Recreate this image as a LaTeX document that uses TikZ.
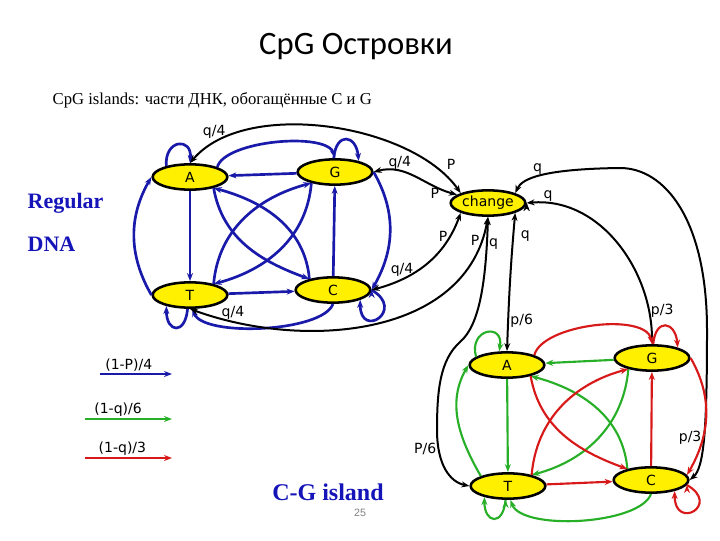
\documentclass[tikz,border=0pt]{standalone}
\usepackage{fontspec}
\setmainfont{Liberation Serif}
\newfontfamily\headfont{Carlito}
\newfontfamily\statefont{DejaVu Sans}
\newfontfamily\pagefont{Liberation Sans}
\usepackage{tikz}
\usetikzlibrary{arrows.meta,shapes.geometric,positioning}
\definecolor{regblue}{RGB}{25,25,170}
\definecolor{textblue}{RGB}{20,20,185}
\definecolor{grn}{RGB}{40,175,40}
\definecolor{rd}{RGB}{215,25,25}
\definecolor{nodeyellow}{RGB}{255,240,0}
\definecolor{pagegray}{RGB}{128,128,128}
\tikzset{
    %Define standard arrow tip
    >={Stealth[length=6pt,width=4.5pt]},
    %Define style for nucleotide states
    nucl/.style={
           ellipse,
           draw=black, line width=1.9pt,
           fill=nodeyellow,
           minimum width=56pt,
           minimum height=19pt,
           inner sep=0pt,
           font=\statefont\fontsize{10.5}{12}\selectfont,
           text centered},
    %Define style for transition labels
    prob/.style={
           font=\statefont\fontsize{10.5}{12}\selectfont,
           inner sep=1pt},
    % Define arrow styles
    bluepil/.style={->, draw=regblue, line width=2pt},
    greenpil/.style={->, draw=grn, line width=1.6pt},
    redpil/.style={->, draw=rd, line width=1.6pt},
    blackpil/.style={<->, draw=black, line width=1.5pt},
    heading/.style={font=\bfseries\fontsize{16.5}{18}\selectfont, text=textblue}
}

\begin{document}
\begin{tikzpicture}[x=0.75pt,y=0.75pt]
\useasboundingbox (0,0) rectangle (720,540);
\node[font=\headfont\fontsize{24.5}{28}\selectfont] (title) at (356,493) {CpG Островки};
\node[anchor=west, font=\fontsize{12.5}{15}\selectfont] (subtitle) at (48,440) {CpG islands: части ДНК, обогащённые C и G};
\node[heading, anchor=west] (reg) at (23,337) {Regular};
\node[heading, below=11pt of reg.south west, anchor=north west] (dna) {DNA};
\node[heading, font=\bfseries\fontsize{18}{20}\selectfont] (cgi) at (328,48) {C-G island};
\node[font=\pagefont\fontsize{8}{10}\selectfont, text=pagegray] (pgno) at (360,27) {25};

% regular DNA
\node[nucl] (rA) at (190,363) {A};
\node[nucl] (rG) at (335,368) {G};
\node[nucl] (rT) at (190,245) {T};
\node[nucl] (rC) at (333,250) {C};
\node[nucl] (chg) at (488,337) {change};
% C-G island
\node[nucl] (iA) at (507,175) {A};
\node[nucl] (iG) at (652,182) {G};
\node[nucl] (iT) at (508,54) {T};
\node[nucl] (iC) at (651,60) {C};

\path[bluepil]
  (rG) edge (rA)
  (rA) edge (rT)
  (rT) edge (rC)
  (rC) edge (rG)
  (rA.north east) edge[out=75, in=105, looseness=0.6] (rG.north)
  (rT.west) edge[out=120, in=240] (rA.west)
  (rG.east) edge[out=-60, in=60] (rC.east)
  (rC.south) edge[out=-110, in=-70, looseness=0.55] (rT.-80)
  (rA.-25) edge[out=-80, in=160] (rC.155)
  (rC.155) edge[out=95, in=-15] (rA.-25)
  (rT.25) edge[out=85, in=195] (rG.205)
  (rG.205) edge[out=-95, in=15] (rT.25)
  (rA.155) edge[out=95, in=85, distance=20pt] (rA.north)
  (rG.95) edge[out=85, in=95, distance=20pt] (rG.25)
  (rT.-100) edge[out=-95, in=-90, distance=20pt] (rT.205)
  (rC.east) edge[out=-30, in=-90, distance=30pt] (rC.-20);

\path[blackpil]
  (rA.north) edge[out=50, in=125, looseness=0.8]
     node[prob, pos=0.12, above=2pt] {q/4} node[prob, pos=0.9, above right=2pt] {P} (chg.north west)
  (rG.east) edge[out=15, in=165]
     node[prob, pos=0.3, above] {q/4} node[prob, pos=0.75, below] {P} (chg.165)
  (rC.east) edge[out=15, in=-110]
     node[prob, pos=0.25, above] {q/4} node[prob, pos=0.8, left] {P} (chg.south west)
  (rT.south) edge[out=-20, in=-100]
     node[prob, pos=0.12, above] {q/4} node[prob, pos=0.93, left] {P} (chg.south)
  (chg.-20) edge[out=-95, in=88]
     node[prob, pos=0.15, right=4pt] {q} node[prob, pos=0.8, right] {p/6} (iA.north)
  (chg.east) edge[out=5, in=90]
     node[prob, pos=0.1, above] {q} node[prob, pos=0.85, right] {p/3} (iG.north);
\draw[blackpil] (chg.south) .. controls (486,260) and (480,215) .. node[prob, pos=0.15, right] {q} (460,198)
  .. controls (440,180) and (437,150) .. (437,110)
  .. controls (437,75) and (450,58) .. node[prob, pos=0.2, left] {P/6} (iT.west);
\draw[blackpil] (chg.north east) .. controls (522,362) and (545,371) .. node[prob, pos=0.45, above] {q} (620,372)
  .. controls (665,372) and (707,320) .. (707,210)
  .. controls (707,110) and (704,72) .. node[prob, pos=0.5, left] {p/3} (iC.east);

\path[greenpil]
  (iG) edge (iA)
  (iA) edge (iT)
  (iT.160) edge[out=120, in=240] (iA.west)
  (iC.south) edge[out=-110, in=-70, looseness=0.6] (iT.-80)
  (iC.155) edge[out=95, in=-15] (iA.-25)
  (iG.205) edge[out=-95, in=15] (iT.25)
  (iA.165) edge[out=105, in=80, distance=22pt] (iA.120)
  (iT.-100) edge[out=-95, in=-90, distance=20pt] (iT.205);
\path[redpil]
  (iT) edge (iC)
  (iC) edge (iG)
  (iA.north east) edge[out=75, in=100, looseness=0.7] (iG.north)
  (iG.east) edge[out=-60, in=60] (iC.8)
  (iA.-25) edge[out=-80, in=160] (iC.155)
  (iT.25) edge[out=85, in=195] (iG.205)
  (iG.85) edge[out=85, in=95, distance=20pt] (iG.22)
  (iC.-8) edge[out=-30, in=-90, distance=30pt] (iC.-25);

% legend
\coordinate (bl1) at (100,166);
\coordinate (bl2) at (172,166);
\coordinate (gr1) at (85,121);
\coordinate (gr2) at (172,121);
\coordinate (rd1) at (85,82);
\coordinate (rd2) at (172,82);
\draw[bluepil] (bl1) -- node[prob, pos=0.4, above] {(1-P)/4} (bl2);
\draw[greenpil] (gr1) -- node[prob, pos=0.38, above] {(1-q)/6} (gr2);
\draw[redpil] (rd1) -- node[prob, pos=0.43, above] {(1-q)/3} (rd2);
\end{tikzpicture}
\end{document}
